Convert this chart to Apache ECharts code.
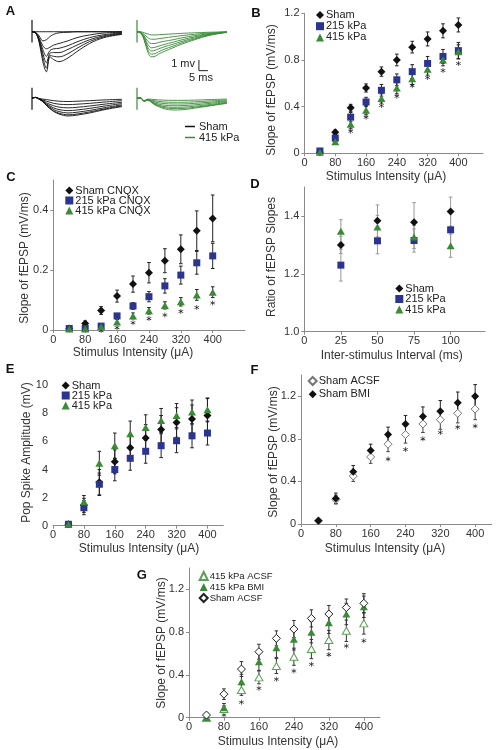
<!DOCTYPE html>
<html><head><meta charset="utf-8">
<script src="https://cdn.jsdelivr.net/npm/echarts@6/dist/echarts.min.js"></script>
<style>html,body{margin:0;padding:0;background:#fff}#c{width:497px;height:750px}</style>
</head><body><div id="c"></div>
<script>
// ---------------- DATA ----------------
// Panel A traces (time in ms after stimulus, voltage in mV)
const traceT = [0, 2, 4, 6, 8, 10, 12, 15, 20, 25, 32, 40, 50];
const shamTopTraces = [
  [0, 0, 0, 0, 0, 0, 0, 0, 0, 0, 0, 0, 0],
  [0, -0.05, -0.4, -0.85, -0.75, -0.45, -0.25, -0.1, -0.05, 0, 0, 0, 0],
  [0, -0.08, -0.6, -1.3, -1.6, -1.45, -1.25, -1.1, -0.85, -0.55, -0.3, -0.12, -0.05],
  [0, -0.1, -0.7, -1.65, -2.3, -1.75, -1.6, -1.55, -1.3, -0.95, -0.55, -0.28, -0.1],
  [0, -0.1, -0.8, -2.0, -2.9, -2.0, -1.95, -1.95, -1.65, -1.25, -0.75, -0.38, -0.15],
  [0, -0.1, -0.9, -2.4, -3.4, -2.2, -2.3, -2.35, -2.05, -1.55, -0.92, -0.47, -0.2],
  [0, -0.1, -1.0, -2.8, -3.75, -2.35, -2.6, -2.8, -2.45, -1.85, -1.1, -0.55, -0.25]
];
const kpaTopTraces = [
  [0, 0, -0.1, -0.2, -0.3, -0.3, -0.28, -0.25, -0.2, -0.15, -0.1, -0.05, 0],
  [0, -0.05, -0.25, -0.55, -0.7, -0.7, -0.65, -0.58, -0.47, -0.36, -0.24, -0.12, -0.02],
  [0, -0.05, -0.4, -0.9, -1.1, -1.1, -1.0, -0.9, -0.75, -0.57, -0.37, -0.18, -0.03],
  [0, -0.08, -0.5, -1.2, -1.5, -1.45, -1.35, -1.2, -0.98, -0.75, -0.48, -0.23, -0.04],
  [0, -0.1, -0.6, -1.45, -1.8, -1.75, -1.6, -1.42, -1.17, -0.9, -0.58, -0.27, -0.04],
  [0, -0.1, -0.7, -1.7, -2.1, -2.05, -1.88, -1.65, -1.35, -1.03, -0.67, -0.31, -0.05],
  [0, -0.1, -0.8, -1.9, -2.35, -2.3, -2.1, -1.85, -1.5, -1.15, -0.75, -0.35, -0.05]
];
const shamBotTraces = [
  [0, 0.05, -0.05, -0.1, -0.15, -0.2, -0.25, -0.3, -0.33, -0.3, -0.25, -0.18, -0.12],
  [0, 0.05, -0.08, -0.18, -0.3, -0.4, -0.5, -0.58, -0.62, -0.58, -0.5, -0.38, -0.25],
  [0, 0.05, -0.1, -0.25, -0.45, -0.6, -0.72, -0.85, -0.92, -0.87, -0.75, -0.58, -0.4],
  [0, 0.05, -0.1, -0.3, -0.55, -0.75, -0.92, -1.08, -1.18, -1.12, -0.97, -0.76, -0.52],
  [0, 0.05, -0.1, -0.32, -0.62, -0.87, -1.07, -1.27, -1.4, -1.33, -1.16, -0.92, -0.64],
  [0, 0.05, -0.1, -0.34, -0.68, -0.96, -1.2, -1.42, -1.57, -1.5, -1.3, -1.03, -0.73],
  [0, 0.05, -0.1, -0.35, -0.7, -1.0, -1.25, -1.5, -1.68, -1.6, -1.4, -1.1, -0.8]
];
const kpaBotTraces = [
  [0, 0, -0.25, -0.1, -0.12, -0.15, -0.18, -0.2, -0.22, -0.22, -0.2, -0.15, -0.1],
  [0, 0, -0.27, -0.13, -0.2, -0.27, -0.32, -0.37, -0.4, -0.4, -0.36, -0.28, -0.19],
  [0, 0, -0.28, -0.15, -0.26, -0.37, -0.45, -0.52, -0.56, -0.56, -0.5, -0.4, -0.27],
  [0, 0, -0.3, -0.17, -0.32, -0.47, -0.57, -0.67, -0.72, -0.71, -0.64, -0.51, -0.34],
  [0, 0, -0.3, -0.18, -0.36, -0.55, -0.67, -0.8, -0.87, -0.86, -0.77, -0.62, -0.41],
  [0, 0, -0.3, -0.19, -0.39, -0.61, -0.74, -0.9, -0.99, -0.98, -0.87, -0.7, -0.46],
  [0, 0, -0.3, -0.2, -0.4, -0.65, -0.8, -1.0, -1.12, -1.1, -0.95, -0.75, -0.5]
];
const artifactTop = [1.1, -1.0];
const artifactBot = [0.95, -1.1];
const scaleMv = 1, scaleMs = 5;

// Stimulus intensities (µA)
const stim = [40, 80, 120, 160, 200, 240, 280, 320, 360, 400];
const stimTicks = [0, 80, 160, 240, 320, 400];

// Panel B
const bSham = [0.01, 0.18, 0.39, 0.56, 0.70, 0.80, 0.91, 0.98, 1.05, 1.10];
const bShamErr = [0.01, 0.02, 0.03, 0.035, 0.04, 0.05, 0.05, 0.06, 0.06, 0.06];
const b215 = [0.02, 0.13, 0.31, 0.44, 0.54, 0.63, 0.70, 0.77, 0.83, 0.88];
const b215Err = [0.01, 0.03, 0.04, 0.04, 0.05, 0.05, 0.06, 0.06, 0.06, 0.07];
const b415 = [0.01, 0.10, 0.25, 0.37, 0.47, 0.56, 0.64, 0.72, 0.80, 0.87];
const b415Err = [0.01, 0.02, 0.04, 0.04, 0.04, 0.05, 0.05, 0.05, 0.05, 0.06];
const bStarX = [120, 160, 200, 240, 280, 320, 360, 400];
const bStarY = [0.19, 0.31, 0.41, 0.49, 0.58, 0.65, 0.71, 0.77];
const bYTicks = [0, 0.4, 0.8, 1.2];

// Panel C
const cSham = [0.005, 0.022, 0.065, 0.113, 0.153, 0.191, 0.231, 0.269, 0.331, 0.372];
const cShamErr = [0.004, 0.008, 0.013, 0.02, 0.027, 0.034, 0.04, 0.048, 0.066, 0.078];
const c215 = [0.005, 0.005, 0.013, 0.047, 0.08, 0.111, 0.147, 0.183, 0.224, 0.247];
const c215Err = [0.003, 0.003, 0.005, 0.008, 0.011, 0.017, 0.024, 0.03, 0.038, 0.042];
const c415 = [0.003, 0.003, 0.011, 0.027, 0.047, 0.064, 0.082, 0.094, 0.117, 0.126];
const c415Err = [0.002, 0.002, 0.005, 0.008, 0.01, 0.011, 0.012, 0.014, 0.018, 0.018];
const cStarX = [120, 160, 200, 240, 280, 320, 360, 400];
const cStarY = [-0.002, 0.008, 0.024, 0.038, 0.05, 0.062, 0.075, 0.09];
const cYTicks = [0, 0.2, 0.4];

// Panel D
const isi = [25, 50, 75, 100];
const dXTicks = [0, 25, 50, 75, 100];
const dSham = [1.30, 1.383, 1.378, 1.415];
const dShamErr = [0.03, 0.055, 0.068, 0.05];
const d215 = [1.23, 1.314, 1.315, 1.352];
const d215Err = [0.055, 0.045, 0.04, 0.06];
const d415 = [1.347, 1.362, 1.327, 1.297];
const d415Err = [0.04, 0.04, 0.04, 0.04];
const dYTicks = [1.0, 1.2, 1.4];

// Panel E
const eSham = [0.1, 1.45, 3.1, 4.55, 5.55, 6.25, 6.85, 7.35, 7.6, 7.85];
const eShamErr = [0.2, 0.5, 0.9, 0.85, 0.9, 0.95, 1.0, 1.05, 1.0, 1.2];
const e215 = [0.1, 1.28, 2.95, 4.0, 4.8, 5.3, 5.7, 6.05, 6.4, 6.6];
const e215Err = [0.2, 0.5, 0.8, 0.8, 0.85, 0.85, 0.85, 0.85, 0.85, 0.85];
const e415 = [0.1, 1.7, 4.45, 5.7, 6.55, 7.0, 7.5, 7.85, 8.1, 8.25];
const e415Err = [0.2, 0.45, 0.85, 0.9, 0.9, 0.9, 0.85, 0.85, 0.85, 0.85];
const eYTicks = [0, 2, 4, 6, 8, 10];

// Panel F
const fAcsf = [0.03, 0.23, 0.45, 0.63, 0.75, 0.84, 0.94, 0.98, 1.04, 1.08];
const fAcsfErr = [0.01, 0.04, 0.05, 0.06, 0.07, 0.08, 0.08, 0.09, 0.09, 0.1];
const fBmi = [0.03, 0.24, 0.49, 0.69, 0.84, 0.94, 1.01, 1.06, 1.14, 1.20];
const fBmiErr = [0.01, 0.05, 0.06, 0.06, 0.07, 0.08, 0.09, 0.1, 0.1, 0.11];
const fStarX = [200, 240, 280, 320, 360, 400];
const fStarY = [0.61, 0.70, 0.80, 0.86, 0.91, 0.92];
const fYTicks = [0, 0.4, 0.8, 1.2];

// Panel G
const gShamAcsf = [0.025, 0.22, 0.455, 0.617, 0.742, 0.829, 0.929, 0.97, 1.03, 1.07];
const gShamAcsfErr = [0.02, 0.05, 0.07, 0.07, 0.07, 0.08, 0.08, 0.08, 0.08, 0.09];
const g415Bmi = [0.0, 0.093, 0.336, 0.523, 0.654, 0.733, 0.80, 0.888, 0.97, 1.037];
const g415BmiErr = [0.02, 0.04, 0.07, 0.08, 0.09, 0.1, 0.1, 0.1, 0.1, 0.1];
const g415Acsf = [0.0, 0.081, 0.259, 0.377, 0.483, 0.57, 0.642, 0.726, 0.813, 0.882];
const g415AcsfErr = [0.02, 0.03, 0.05, 0.06, 0.07, 0.08, 0.09, 0.09, 0.1, 0.1];
const gStarX = [80, 120, 160, 200, 240, 280, 320, 360, 400];
const gStarY = [0.025, 0.144, 0.275, 0.36, 0.437, 0.50, 0.59, 0.67, 0.72];
const gYTicks = [0, 0.4, 0.8, 1.2];

// ---------------- STYLE ----------------
const FONT = '"Liberation Sans", Arial, Helvetica, sans-serif';
const TXT = '#333';
const AX = '#8a8a8a';
const BLACK = '#111';
const BLUE = '#2b3590';
const GREEN = '#3a8a38';
const GREEN_L = '#5c9e55';
const STAR = 'path://M4.4,0L5.6,0L5.6,3.9L9,1.95L9.6,3L6.2,5L9.6,7L9,8.05L5.6,6.1L5.6,10L4.4,10L4.4,6.1L1,8.05L0.4,7L3.8,5L0.4,3L1,1.95L4.4,3.9Z';

const chart = echarts.init(document.getElementById('c'), null, {renderer: 'canvas', width: 497, height: 750});

const grids = [
  {left: 32, top: 18.9, width: 90, height: 55.6},    // 0 A sham top
  {left: 137, top: 18.9, width: 90, height: 55.6},   // 1 A 415 top
  {left: 32, top: 87.3, width: 90, height: 32.1},    // 2 A sham bottom
  {left: 137, top: 87.3, width: 90, height: 32.1},   // 3 A 415 bottom
  {left: 304.5, top: 13.3, width: 178.5, height: 140},   // 4 B
  {left: 53.3, top: 180, width: 191.7, height: 150},     // 5 C
  {left: 304.3, top: 187, width: 180.7, height: 144.7},  // 6 D
  {left: 53, top: 385.3, width: 170.3, height: 140.4},   // 7 E
  {left: 301, top: 375, width: 190.7, height: 149},      // 8 F
  {left: 189, top: 568, width: 191, height: 149.7}       // 9 G
];

function hiddenAx(gi, min, max) {
  return {gridIndex: gi, type: 'value', min, max, show: false};
}
function valAx(gi, min, max, ticks, opts) {
  opts = opts || {};
  return {
    gridIndex: gi, type: 'value', min, max,
    splitLine: {show: false},
    axisLine: {show: opts.line !== false, onZero: false, lineStyle: {color: AX, width: 1}},
    axisTick: {show: opts.line !== false, length: 3, customValues: ticks, lineStyle: {color: AX}},
    axisLabel: {customValues: ticks, margin: opts.margin || 4, fontSize: 11, color: TXT, fontFamily: FONT,
      formatter: opts.fmt || (v => String(v))}
  };
}

const xAxes = [
  hiddenAx(0, 0, 50), hiddenAx(1, 0, 50), hiddenAx(2, 0, 50), hiddenAx(3, 0, 50),
  valAx(4, 0, 464, stimTicks),
  valAx(5, 0, 481, stimTicks),
  valAx(6, 0, 123.5, dXTicks),
  valAx(7, 0, 441, stimTicks),
  valAx(8, 0, 438, stimTicks),
  valAx(9, 0, 437, stimTicks)
];
const yAxes = [
  hiddenAx(0, -4, 1.2), hiddenAx(1, -4, 1.2), hiddenAx(2, -2, 1), hiddenAx(3, -2, 1),
  valAx(4, 0, 1.2, bYTicks, {margin: 5}),
  valAx(5, 0, 0.5, cYTicks, {margin: 5}),
  valAx(6, 1.0, 1.5, dYTicks, {margin: 5, fmt: v => v.toFixed(1)}),
  valAx(7, 0, 10, eYTicks, {margin: 5, line: false}),
  valAx(8, 0, 1.4, fYTicks, {margin: 5}),
  valAx(9, 0, 1.4, gYTicks, {margin: 5})
];

const series = [];
function traces(gi, name, list, color) {
  list.forEach(v => series.push({
    type: 'line', name, xAxisIndex: gi, yAxisIndex: gi, silent: true,
    data: traceT.map((t, i) => [t, v[i]]), showSymbol: false, symbol: 'none', smooth: 0.35,
    lineStyle: {width: 0.9, color}, itemStyle: {color}
  }));
}
function artifact(gi, a, color) {
  series.push({type: 'line', xAxisIndex: gi, yAxisIndex: gi, silent: true, symbol: 'none',
    data: [[0, a[0]], [0, a[1]]], lineStyle: {width: 1.2, color}});
}
function errBars(gi, xs, ys, es, color) {
  series.push({
    type: 'custom', xAxisIndex: gi, yAxisIndex: gi, silent: true, z: 1, clip: false,
    data: xs.map((x, i) => [x, ys[i] - es[i], ys[i] + es[i]]),
    encode: {x: 0, y: [1, 2]},
    renderItem: (p, api) => {
      const lo = api.coord([api.value(0), api.value(1)]);
      const hi = api.coord([api.value(0), api.value(2)]);
      const w = 1.8, st = {stroke: color, lineWidth: 1};
      return {type: 'group', children: [
        {type: 'line', shape: {x1: lo[0], y1: lo[1], x2: hi[0], y2: hi[1]}, style: st},
        {type: 'line', shape: {x1: lo[0] - w, y1: lo[1], x2: lo[0] + w, y2: lo[1]}, style: st},
        {type: 'line', shape: {x1: hi[0] - w, y1: hi[1], x2: hi[0] + w, y2: hi[1]}, style: st}
      ]};
    }
  });
}
function points(gi, name, xs, ys, symbol, size, itemStyle) {
  series.push({type: 'scatter', name, xAxisIndex: gi, yAxisIndex: gi, silent: true, z: 3, clip: false,
    data: xs.map((x, i) => [x, ys[i]]), symbol, symbolSize: size,
    itemStyle: Object.assign({opacity: 1}, itemStyle)});
}
function stars(gi, xs, ys) {
  series.push({type: 'scatter', xAxisIndex: gi, yAxisIndex: gi, silent: true, z: 2, clip: false,
    data: xs.map((x, i) => [x, ys[i]]), symbol: STAR, symbolSize: [5, 5], itemStyle: {color: '#222', opacity: 1}});
}

// Panel A
traces(0, 'A|Sham', shamTopTraces, BLACK);
traces(2, 'A|Sham', shamBotTraces, BLACK);
traces(1, 'A|415 kPa', kpaTopTraces, GREEN);
traces(3, 'A|415 kPa', kpaBotTraces, GREEN);
artifact(0, artifactTop, BLACK); artifact(2, artifactBot, BLACK);
artifact(1, artifactTop, GREEN); artifact(3, artifactBot, GREEN);
// scale bar (1 mV x 5 ms) drawn in the data space of the 415 kPa top traces
const sbT = 34.4, sbV = -2.64;
series.push({type: 'line', xAxisIndex: 1, yAxisIndex: 1, silent: true, symbol: 'none',
  data: [[sbT, sbV], [sbT, sbV - scaleMv], [sbT + scaleMs, sbV - scaleMv]], lineStyle: {width: 1, color: '#222'}});

// Panel B
errBars(4, stim, bSham, bShamErr, '#222');
errBars(4, stim, b215, b215Err, '#222');
errBars(4, stim, b415, b415Err, '#222');
points(4, 'B|Sham', stim, bSham, 'diamond', [8, 8], {color: BLACK});
points(4, 'B|215 kPa', stim, b215, 'rect', [7, 7], {color: BLUE});
points(4, 'B|415 kPa', stim, b415, 'triangle', [8, 7], {color: GREEN});
stars(4, bStarX, bStarY);

// Panel C
errBars(5, stim, cSham, cShamErr, '#222');
errBars(5, stim, c215, c215Err, '#222');
errBars(5, stim, c415, c415Err, '#222');
points(5, 'C|Sham CNQX', stim, cSham, 'diamond', [8, 8], {color: BLACK});
points(5, 'C|215 kPa CNQX', stim, c215, 'rect', [7, 7], {color: BLUE});
points(5, 'C|415 kPa CNQX', stim, c415, 'triangle', [8, 7], {color: GREEN});
stars(5, cStarX, cStarY);

// Panel D
errBars(6, isi, dSham, dShamErr, '#999');
errBars(6, isi, d215, d215Err, '#999');
errBars(6, isi, d415, d415Err, '#999');
points(6, 'D|Sham', isi, dSham, 'diamond', [8, 8], {color: BLACK});
points(6, 'D|215 kPa', isi, d215, 'rect', [7, 7], {color: BLUE});
points(6, 'D|415 kPa', isi, d415, 'triangle', [8, 7], {color: GREEN});

// Panel E
errBars(7, stim, eSham, eShamErr, '#222');
errBars(7, stim, e215, e215Err, '#222');
errBars(7, stim, e415, e415Err, '#222');
points(7, 'E|Sham', stim, eSham, 'diamond', [8, 8], {color: BLACK});
points(7, 'E|215 kPa', stim, e215, 'rect', [7, 7], {color: BLUE});
points(7, 'E|415 kPa', stim, e415, 'triangle', [8, 7], {color: GREEN});

// Panel F
errBars(8, stim, fAcsf, fAcsfErr, '#444');
errBars(8, stim, fBmi, fBmiErr, '#222');
points(8, 'F|Sham ACSF', stim, fAcsf, 'diamond', [8, 8], {color: '#fff', borderColor: '#777', borderWidth: 1});
points(8, 'F|Sham BMI', stim, fBmi, 'diamond', [8, 8], {color: BLACK});
stars(8, fStarX, fStarY);

// Panel G
errBars(9, stim, g415Acsf, g415AcsfErr, '#333');
errBars(9, stim, g415Bmi, g415BmiErr, '#333');
errBars(9, stim, gShamAcsf, gShamAcsfErr, '#333');
points(9, 'G|415 kPa ACSF', stim, g415Acsf, 'triangle', [8, 7], {color: '#fff', borderColor: GREEN_L, borderWidth: 1});
points(9, 'G|415 kPa BMI', stim, g415Bmi, 'triangle', [8, 7], {color: GREEN});
points(9, 'G|Sham ACSF', stim, gShamAcsf, 'diamond', [8, 8], {color: '#fff', borderColor: '#222', borderWidth: 1});
stars(9, gStarX, gStarY);

function legend(names, left, top, fontSize, gap, opts) {
  opts = opts || {};
  return Object.assign({
    data: names, left, top, orient: 'vertical', padding: 0, itemGap: gap,
    itemWidth: 8, itemHeight: 8, selectedMode: false,
    formatter: n => n.split('|')[1],
    textStyle: {fontSize, color: '#222', fontFamily: FONT, lineHeight: fontSize, padding: [0, 0, 0, -3]}
  }, opts);
}
const legends = [
  legend(['A|Sham', 'A|415 kPa'], 185, 121, 11, 0, {itemWidth: 10, itemHeight: 1.5, icon: 'rect',
    textStyle: {fontSize: 11, color: '#222', fontFamily: FONT, lineHeight: 10, padding: [0, 0, 0, -1]}}),
  legend(['B|Sham', 'B|215 kPa', 'B|415 kPa'], 316, 9.5, 11, 0.2),
  legend(['C|Sham CNQX', 'C|215 kPa CNQX', 'C|415 kPa CNQX'], 65.3, 185, 11, -1),
  legend(['D|Sham', 'D|215 kPa', 'D|415 kPa'], 395.3, 283, 11, -0.5),
  legend(['E|Sham', 'E|215 kPa', 'E|415 kPa'], 61.7, 380, 11, -1),
  legend(['F|Sham ACSF', 'F|Sham BMI'], 307.7, 375.5, 11, 2.3),
  legend(['G|415 kPa ACSF', 'G|415 kPa BMI', 'G|Sham ACSF'], 198.7, 571, 9.5, 1)
];

function txt(x, y, text, o) {
  o = o || {};
  return {type: 'text', x, y, rotation: o.rot || 0, z: 10, silent: true,
    style: {text, fill: o.color || TXT, font: (o.bold ? 'bold ' : '') + (o.size || 12) + 'px ' + FONT,
      align: o.align || 'center', verticalAlign: 'middle'}};
}
const R = Math.PI / 2;
const graphics = [
  txt(10.5, 11, 'A', {bold: true, size: 13, color: '#111'}),
  txt(256, 13, 'B', {bold: true, size: 13, color: '#111'}),
  txt(11, 177, 'C', {bold: true, size: 13, color: '#111'}),
  txt(255, 184, 'D', {bold: true, size: 13, color: '#111'}),
  txt(10, 369, 'E', {bold: true, size: 13, color: '#111'}),
  txt(254.5, 370, 'F', {bold: true, size: 13, color: '#111'}),
  txt(141.7, 575, 'G', {bold: true, size: 13, color: '#111'}),
  txt(195, 63.5, '1 mv', {align: 'right', size: 11, color: '#222'}),
  txt(201, 78, '5 ms', {size: 11, color: '#222'}),
  txt(386, 177, 'Stimulus Intensity (μA)'),
  txt(272, 90, 'Slope of fEPSP (mV/ms)', {rot: R}),
  txt(133, 353, 'Stimulus Intensity (μA)'),
  txt(25, 258, 'Slope of fEPSP (mV/ms)', {rot: R}),
  txt(391.7, 356, 'Inter-stimulus Interval (ms)'),
  txt(271.7, 257, 'Ratio of fEPSP Slopes', {rot: R}),
  txt(139, 549, 'Stimulus Intensity (μA)'),
  txt(26.5, 452.5, 'Pop Spike Amplitude (mV)', {rot: R}),
  txt(385, 549, 'Stimulus Intensity (μA)'),
  txt(273.3, 452, 'Slope of fEPSP (mV/ms)', {rot: R}),
  txt(278, 741.7, 'Stimulus Intensity (μA)'),
  txt(161.7, 643, 'Slope of fEPSP (mV/ms)', {rot: R})
];

chart.setOption({
  animation: false,
  backgroundColor: '#fff',
  textStyle: {fontFamily: FONT},
  grid: grids,
  xAxis: xAxes,
  yAxis: yAxes,
  legend: legends,
  series,
  graphic: graphics
});
</script></body></html>
